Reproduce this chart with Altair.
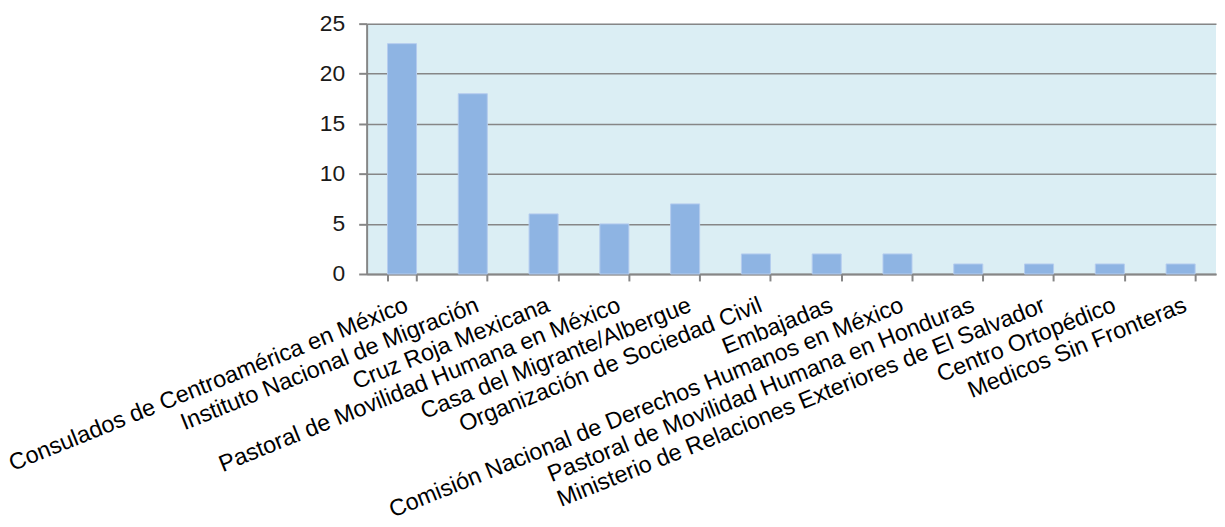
import altair as alt
import pandas as pd

categories = [
    "Consulados de Centroamérica en México",
    "Instituto Nacional de Migración",
    "Cruz Roja Mexicana",
    "Pastoral de Movilidad Humana en México",
    "Casa del Migrante/Albergue",
    "Organización de Sociedad Civil",
    "Embajadas",
    "Comisión Nacional de Derechos Humanos en México",
    "Pastoral de Movilidad Humana en Honduras",
    "Ministerio de Relaciones Exteriores de El Salvador",
    "Centro Ortopédico",
    "Medicos Sin Fronteras",
]
values = [23, 18, 6, 5, 7, 2, 2, 2, 1, 1, 1, 1]
y_ticks = [0, 5, 10, 15, 20, 25]

df = pd.DataFrame({"cat": categories, "val": values})

chart = (
    alt.Chart(df)
    .mark_bar(color="#8EB4E3", stroke="#B4CCEE", strokeWidth=1)
    .encode(
        x=alt.X(
            "cat:N",
            sort=None,
            title=None,
            scale=alt.Scale(paddingInner=0.59, paddingOuter=0.295),
            axis=alt.Axis(
                labelAngle=-22,
                labelAlign="right",
                labelBaseline="top",
                labelFont="Liberation Sans",
                labelFontSize=23.5,
                labelColor="#000000",
                labelPadding=12,
                labelLimit=0,
                labelOverlap=False,
                tickBand="extent",
                tickSize=7,
                tickColor="#868686",
                tickWidth=2,
                domainColor="#868686",
                domainWidth=2,
                grid=False,
            ),
        ),
        y=alt.Y(
            "val:Q",
            title=None,
            scale=alt.Scale(domain=[0, 25], nice=False),
            axis=alt.Axis(
                values=y_ticks,
                labelFont="Liberation Sans",
                labelFontSize=23,
                labelColor="#1a1a1a",
                labelPadding=14,
                tickSize=8,
                tickColor="#868686",
                tickWidth=2,
                domainColor="#868686",
                domainWidth=2,
                grid=True,
                gridColor="#868686",
                gridWidth=1.5,
            ),
        ),
    )
    .properties(
        width=855,
        height=252,
        autosize=alt.AutoSizeParams(type="none"),
        padding={"left": 361, "top": 14, "right": 1, "bottom": 262},
    )
    .configure_view(fill="#DBEEF4", stroke=None)
)

chart.save("out.html", embed_options={"renderer": "svg", "actions": False})
